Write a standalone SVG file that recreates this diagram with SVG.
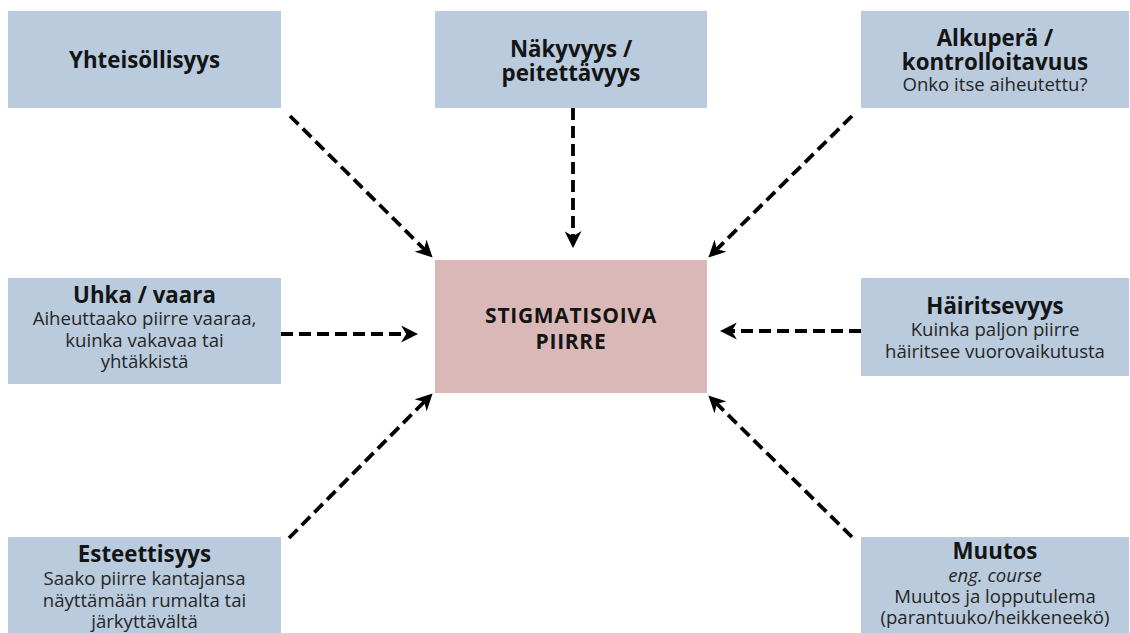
<svg xmlns="http://www.w3.org/2000/svg" width="1130" height="633" viewBox="0 0 1130 633">
<style>
.box{fill:#b9cbdd;}
.center{fill:#dbb8b8;}
text{font-family:"Open Sans","Noto Sans","Liberation Sans",sans-serif;text-anchor:middle;fill:#141414;}
.t{font-size:22.3px;font-weight:bold;}
.s{font-size:18.6px;fill:#262626;}
.i{font-size:18.6px;font-style:italic;fill:#262626;}
.c{font-size:21px;font-weight:bold;letter-spacing:0.7px;}
.conn{stroke:#000;stroke-width:3.8;fill:none;stroke-dasharray:12 6;marker-end:url(#ah);}
</style>
<defs>
<marker id="ah" viewBox="0 0 10 10" refX="7" refY="5" markerWidth="17" markerHeight="17" markerUnits="userSpaceOnUse" orient="auto">
<path d="M0,0 L10,5 L0,10 L3,5 z" fill="#000"/>
</marker>
</defs>
<rect width="1130" height="633" fill="#fff"/>
<g id="connectors">
<line class="conn" x1="290" y1="116" x2="429" y2="254"/>
<line class="conn" x1="573" y1="108" x2="573" y2="243"/>
<line class="conn" x1="852" y1="116" x2="712" y2="254"/>
<line class="conn" x1="281" y1="334" x2="413" y2="334"/>
<line class="conn" x1="861" y1="331" x2="725" y2="331"/>
<line class="conn" x1="289" y1="538" x2="429" y2="397"/>
<line class="conn" x1="852" y1="537" x2="712" y2="399"/>
</g>
<g id="center">
<rect class="center" x="435" y="260" width="272" height="133"/>
<text class="c" x="571" y="323">STIGMATISOIVA</text>
<text class="c" x="571" y="349">PIIRRE</text>
</g>
<g id="yhteisollisyys">
<rect class="box" x="8" y="11" width="273" height="97"/>
<text class="t" x="144.5" y="68">Yhteisöllisyys</text>
</g>
<g id="nakyvyys">
<rect class="box" x="435" y="11" width="272" height="97"/>
<text class="t" x="571" y="57">Näkyvyys /</text>
<text class="t" x="571" y="81">peitettävyys</text>
</g>
<g id="alkupera">
<rect class="box" x="861" y="11" width="268" height="97"/>
<text class="t" x="995" y="46">Alkuperä /</text>
<text class="t" x="995" y="70">kontrolloitavuus</text>
<text class="s" x="995" y="91">Onko itse aiheutettu?</text>
</g>
<g id="uhka">
<rect class="box" x="8" y="278" width="273" height="106"/>
<text class="t" x="144.5" y="303">Uhka / vaara</text>
<text class="s" x="144.5" y="325">Aiheuttaako piirre vaaraa,</text>
<text class="s" x="144.5" y="347">kuinka vakavaa tai</text>
<text class="s" x="144.5" y="368">yhtäkkistä</text>
</g>
<g id="hairitsevyys">
<rect class="box" x="861" y="278" width="268" height="98"/>
<text class="t" x="995" y="314">Häiritsevyys</text>
<text class="s" x="995" y="336">Kuinka paljon piirre</text>
<text class="s" x="995" y="358">häiritsee vuorovaikutusta</text>
</g>
<g id="esteettisyys">
<rect class="box" x="8" y="537" width="273" height="96"/>
<text class="t" x="144.5" y="562">Esteettisyys</text>
<text class="s" x="144.5" y="585">Saako piirre kantajansa</text>
<text class="s" x="144.5" y="607">näyttämään rumalta tai</text>
<text class="s" x="144.5" y="628">järkyttävältä</text>
</g>
<g id="muutos">
<rect class="box" x="861" y="537" width="268" height="96"/>
<text class="t" x="995" y="559">Muutos</text>
<text class="i" x="995" y="582">eng. course</text>
<text class="s" x="995" y="603">Muutos ja lopputulema</text>
<text class="s" x="995" y="624">(parantuuko/heikkeneekö)</text>
</g>
</svg>
